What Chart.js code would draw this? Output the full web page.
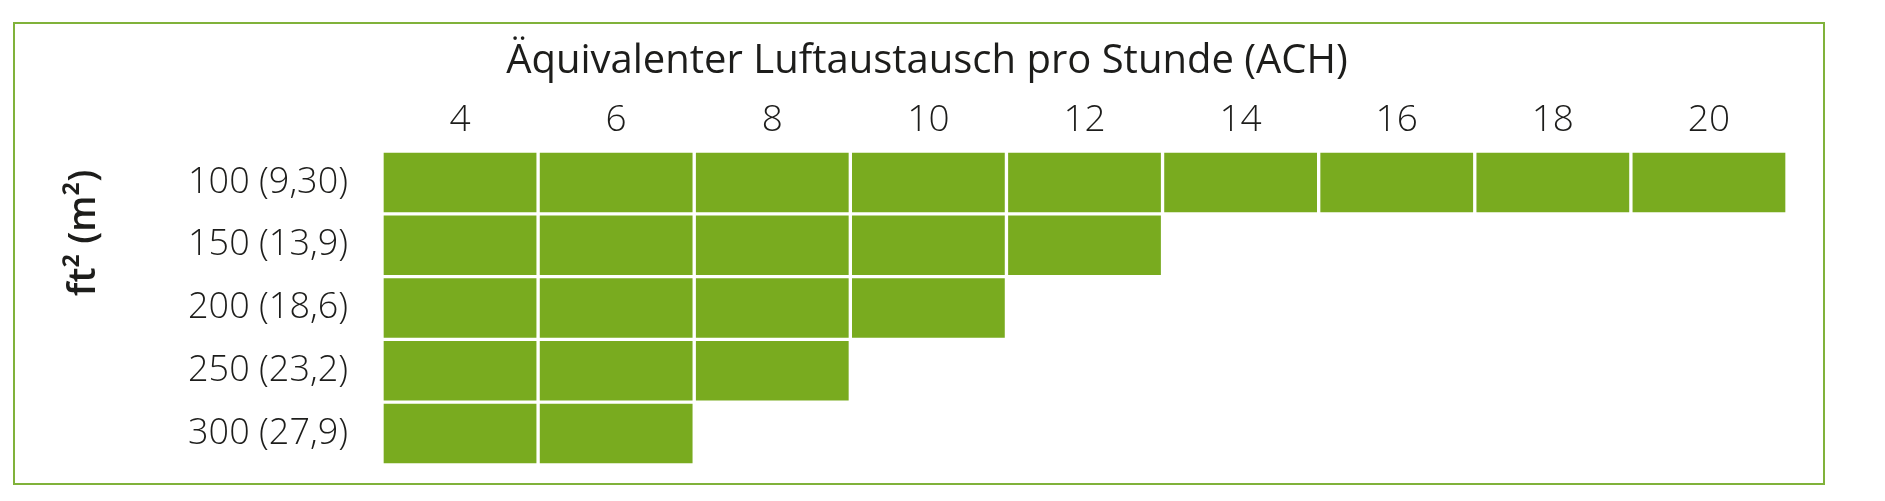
<!DOCTYPE html>
<html>
<head>
<meta charset="utf-8">
<script src="https://cdn.jsdelivr.net/npm/chart.js@4.4.1/dist/chart.umd.min.js"></script>
<style>
  body { margin: 0; background: #fff; }
  #frame {
    position: absolute; left: 13px; top: 22px;
    width: 1812px; height: 463px;
    box-sizing: border-box; border: 2px solid #80b23a;
  }
  #chart { position: absolute; left: 0; top: 0; }
</style>
</head>
<body>
<div id="frame"></div>
<canvas id="chart" width="1885" height="501"></canvas>
<script>
// room sizes, ft2 (m2)
const roomSizes = ["100 (9,30)", "150 (13,9)", "200 (18,6)", "250 (23,2)", "300 (27,9)"];
// ACH columns shown on the top axis
const achSteps = [4, 6, 8, 10, 12, 14, 16, 18, 20];
// highest equivalent ACH reached for each room size
const maxAch = [20, 12, 10, 8, 6];

const green = "#79ab1f";
const textColor = "#1d1d1b";

Chart.defaults.font.family = "'Open Sans', sans-serif";
Chart.defaults.color = textColor;

// one dataset per ACH column, a cell spans one step around its label
const datasets = achSteps.map(a => ({
  label: String(a),
  data: maxAch.map(m => (a <= m ? [a - 1, a + 1] : null)),
  backgroundColor: green,
  borderColor: "#ffffff",
  borderWidth: 2,
  borderSkipped: false,
  grouped: false,
  categoryPercentage: 1,
  barPercentage: 1
}));

const yTitle = {
  id: "yTitle",
  afterDraw(chart) {
    const ctx = chart.ctx;
    ctx.save();
    ctx.translate(95, 233);
    ctx.rotate(-Math.PI / 2);
    ctx.font = "600 38px 'Open Sans', sans-serif";
    ctx.fillStyle = textColor;
    ctx.textAlign = "center";
    ctx.textBaseline = "alphabetic";
    ctx.fillText("ft² (m²)", 0, 0);
    ctx.restore();
  }
};

new Chart(document.getElementById("chart"), {
  type: "bar",
  data: { labels: roomSizes, datasets: datasets },
  options: {
    indexAxis: "y",
    responsive: false,
    animation: false,
    layout: { padding: { left: 67, right: 98, top: 0, bottom: 36 } },
    plugins: {
      legend: { display: false },
      tooltip: { enabled: false },
      title: {
        display: true,
        text: "Äquivalenter Luftaustausch pro Stunde (ACH)",
        color: textColor,
        font: { size: 40, weight: 400 },
        padding: { top: 37.5, bottom: 0 }
      }
    },
    scales: {
      x: {
        type: "linear",
        position: "top",
        min: 3,
        max: 21,
        afterBuildTicks: s => { s.ticks = achSteps.map(v => ({ value: v })); },
        afterFit: s => { s.height = 65.5; s.paddingLeft = 0; s.paddingRight = 0; },
        grid: { display: false, drawTicks: false },
        border: { display: false },
        ticks: { padding: 8, font: { size: 37, weight: 300 }, color: textColor }
      },
      y: {
        afterFit: s => { s.width = 315; s.paddingTop = 0; s.paddingBottom = 0; },
        grid: { display: false, drawTicks: false },
        border: { display: false },
        ticks: { padding: 34, font: { size: 36, weight: 300 }, color: textColor }
      }
    }
  },
  plugins: [yTitle]
});
</script>
</body>
</html>
